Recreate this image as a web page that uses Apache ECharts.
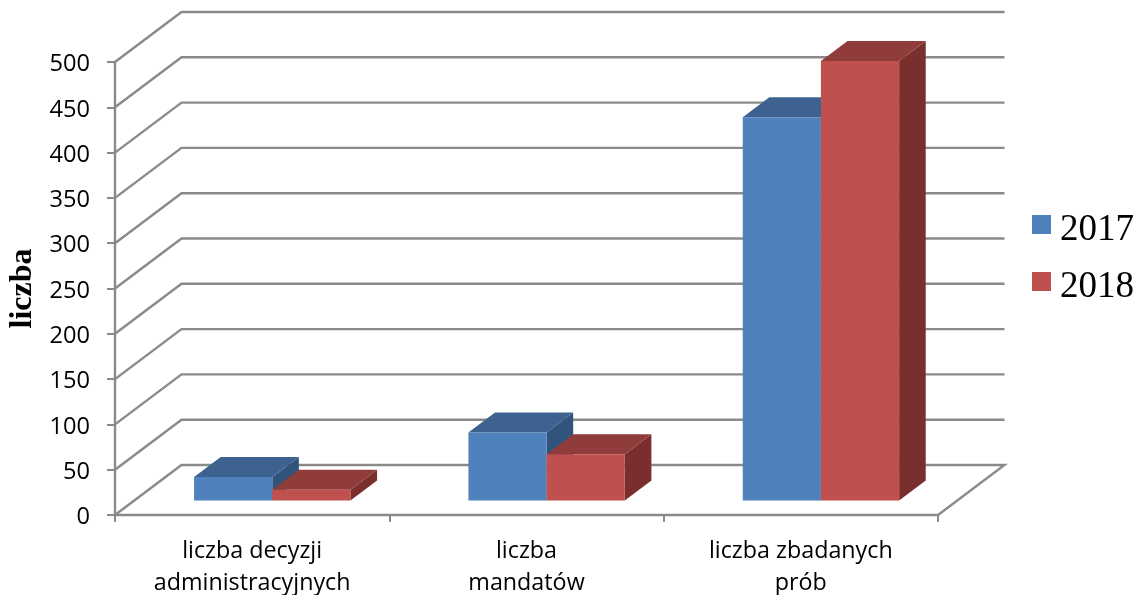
<!DOCTYPE html>
<html>
<head>
<meta charset="utf-8">
<style>html,body{margin:0;padding:0;background:#fff}#c{width:1139px;height:595px}</style>
<script src="https://cdn.jsdelivr.net/npm/echarts@6/dist/echarts.min.js"></script>
</head>
<body>
<div id="c"></div>
<script>
const categories = ['liczba decyzji\nadministracyjnych', 'liczba\nmandatów', 'liczba zbadanych\nprób'];
const values2017 = [26, 75, 423];
const values2018 = [12, 51, 485];
const yTicks = [0, 50, 100, 150, 200, 250, 300, 350, 400, 450, 500];

const wallDX = 66.5, wallDY = 50;      // depth of the 3D box
const barBase = 0.29, barDepth = 0.40;  // bar position and thickness, as fractions of box depth
const barFrac = 0.285, gapFrac = 0.218; // of a category band
const lineColor = '#8a8a8a';
const faces = {
  '2017': {front: '#4F81BD', top: '#3D628F', side: '#31547C'},
  '2018': {front: '#C0504D', top: '#903C3A', side: '#7A2F2E'}
};

function wallItem(params, api) {
  const v = api.value(1);
  const band = api.size([1, 0])[0];
  const p0 = api.coord([0, v]);
  const pN = api.coord([categories.length - 1, v]);
  const x0 = p0[0] - band / 2, x1 = pN[0] + band / 2, y = p0[1];
  const pts = [[x0, y], [x0 + wallDX, y - wallDY], [x1 + wallDX, y - wallDY]];
  if (v === 0) pts.push([x1, y]);
  return {type: 'polyline', shape: {points: pts},
    style: {fill: 'none', stroke: lineColor, lineWidth: 2.4}, silent: true};
}

function barRenderer(order, colors) {
  return function (params, api) {
    const cat = api.value(0), v = api.value(1);
    const band = api.size([1, 0])[0];
    const base = api.coord([cat, 0]), top = api.coord([cat, v]);
    const ox = barBase * wallDX, oy = barBase * wallDY;
    const dx = barDepth * wallDX, dy = barDepth * wallDY;
    const w = barFrac * band;
    const xl = base[0] - band / 2 + gapFrac * band + order * w + ox;
    const xr = xl + w;
    const yb = base[1] - oy, yt = top[1] - oy;
    const poly = (pts, fill) => ({type: 'polygon', shape: {points: pts}, style: {fill: fill}});
    return {type: 'group', children: [
      poly([[xr, yb], [xr + dx, yb - dy], [xr + dx, yt - dy], [xr, yt]], colors.side),
      poly([[xl, yt], [xr, yt], [xr + dx, yt - dy], [xl + dx, yt - dy]], colors.top),
      poly([[xl, yb], [xr, yb], [xr, yt], [xl, yt]], colors.front)
    ]};
  };
}

const chart = echarts.init(document.getElementById('c'));
chart.setOption({
  animation: false,
  backgroundColor: '#fff',
  grid: {left: 115, width: 823, top: 62, height: 453, outerBoundsMode: 'none'},
  legend: {
    data: ['2017', '2018'], orient: 'vertical', left: 1032, top: 212, padding: 0,
    itemWidth: 19, itemHeight: 19, itemGap: 20, icon: 'rect', selectedMode: false,
    formatter: '{v|{name}}',
    textStyle: {rich: {v: {fontFamily: 'Liberation Serif', fontSize: 37, color: '#000', padding: [12, 0, 0, 4]}}}
  },
  xAxis: {
    type: 'category', data: categories,
    axisTick: {show: true, length: 7, lineStyle: {color: lineColor, width: 2}},
    axisLine: {lineStyle: {color: lineColor, width: 2.4}},
    axisLabel: {fontFamily: 'Open Sans', fontSize: 23.3, color: '#000', lineHeight: 32, margin: 20, interval: 0}
  },
  yAxis: {
    type: 'value', min: 0, max: 500, interval: 50,
    name: 'liczba', nameLocation: 'middle', nameRotate: 90, nameGap: 68,
    nameTextStyle: {fontFamily: 'Liberation Serif', fontWeight: 'bold', fontSize: 32, color: '#000'},
    splitLine: {show: false},
    axisLine: {show: true, lineStyle: {color: lineColor, width: 2.4}},
    axisTick: {show: true, length: 8, lineStyle: {color: lineColor, width: 2}},
    axisLabel: {margin: 25, formatter: '{v|{value}}',
      rich: {v: {fontFamily: 'Open Sans', fontSize: 23.6, color: '#000', padding: [5, 0, 0, 0]}}}
  },
  series: [
    {type: 'custom', name: 'walls', silent: true, z: 1, renderItem: wallItem,
     data: yTicks.map(v => [0, v]), encode: {x: 0, y: 1}},
    {type: 'custom', name: '2017', z: 2, itemStyle: {color: faces['2017'].front},
     renderItem: barRenderer(0, faces['2017']),
     data: values2017.map((v, i) => [i, v]), encode: {x: 0, y: 1}},
    {type: 'custom', name: '2018', z: 3, itemStyle: {color: faces['2018'].front},
     renderItem: barRenderer(1, faces['2018']),
     data: values2018.map((v, i) => [i, v]), encode: {x: 0, y: 1}}
  ]
});
</script>
</body>
</html>
